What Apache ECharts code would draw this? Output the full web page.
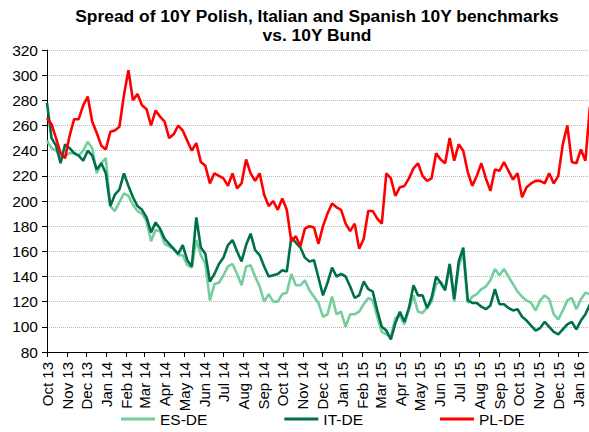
<!DOCTYPE html>
<html>
<head>
<meta charset="utf-8">
<script src="https://cdn.jsdelivr.net/npm/echarts@6/dist/echarts.min.js"></script>
<style>
html,body{margin:0;padding:0;background:#fff;}
#chart{width:589px;height:432px;}
</style>
</head>
<body>
<div id="chart"></div>
<script>
const seriesNames = ['ES-DE', 'IT-DE', 'PL-DE'];
const monthNames = ['Jan','Feb','Mar','Apr','May','Jun','Jul','Aug','Sep','Oct','Nov','Dec'];

const esDe = [248,242,240,236,236,238,238,236,240,247,242,222,230,234,196,192,199,206,204,197,
  192,190,184,168,177,176,166,164,162,157,157,149,147,169,157,150,121,134,135,141,
  148,150,142,133,148,149,140,132,120,126,120,120,126,127,142,133,133,137,129,124,
  119,108,110,124,110,112,100,110,110,112,118,123,121,108,96,94,92,107,109,102,
  114,125,112,111,115,120,134,136,130,150,120,148,158,119,124,126,130,132,137,146,
  141,146,140,134,128,124,121,119,113,121,125,122,110,106,113,121,123,114,122,127,126];

const itDe = [278,250,244,230,245,242,238,236,232,240,236,225,230,222,196,205,209,222,212,203,
  196,193,187,175,183,178,170,166,162,158,165,153,148,187,163,158,136,142,150,155,
  165,169,160,152,165,174,161,157,148,140,141,142,145,144,171,167,163,155,152,153,
  139,125,135,147,140,142,140,132,123,125,136,130,128,113,100,97,90,103,112,104,
  115,133,125,125,115,123,140,135,129,150,122,152,163,121,119,119,116,114,117,130,
  118,118,115,113,114,108,105,101,97,99,104,100,96,94,98,102,104,98,105,110,118];

const plDe = [266,261,250,238,234,252,265,265,276,283,263,254,244,241,255,256,259,284,304,280,
  285,276,273,260,272,267,263,250,253,260,256,248,240,246,231,228,214,222,220,218,
  212,222,210,214,233,222,216,222,205,196,200,193,202,193,168,172,164,178,180,179,
  166,180,190,198,195,193,182,176,182,162,170,192,192,186,182,222,218,204,211,212,
  218,226,230,220,216,218,238,233,230,250,232,245,240,223,212,220,230,218,208,225,
  224,231,224,217,222,203,211,214,216,216,214,222,214,220,245,260,231,230,241,232,275];

const yTicks = {min: 80, max: 320, step: 20};

const DAY = 86400000;
const START = Date.UTC(2013, 9, 1);
const END = Date.UTC(2016, 0, 16);
const weekDates = esDe.map((_, i) => START + i * 7 * DAY);

const pair = arr => arr.map((v, i) => [weekDates[i], v]);
const colors = ['#74cf9c', '#00704a', '#ff0000'];
const FONT = '"Liberation Sans", Arial, sans-serif';

const chart = echarts.init(document.getElementById('chart'), null, {renderer: 'svg'});
chart.setOption({
  animation: false,
  useUTC: true,
  backgroundColor: '#ffffff',
  title: {
    text: 'Spread of 10Y Polish, Italian and Spanish 10Y benchmarks\nvs. 10Y Bund',
    left: 317,
    top: 6,
    padding: 0,
    textAlign: 'center',
    textStyle: {fontFamily: FONT, fontSize: 17.4, fontWeight: 'bold', color: '#000', lineHeight: 19}
  },
  legend: {
    data: seriesNames,
    icon: 'rect',
    left: 116,
    top: 406,
    itemWidth: 34,
    itemHeight: 3,
    itemGap: 77,
    textStyle: {fontFamily: FONT, fontSize: 15.5, color: '#000'}
  },
  grid: {left: 47, right: 1, top: 50, bottom: 80},
  xAxis: {
    type: 'time',
    min: START,
    max: END,
    minInterval: 31 * DAY,
    maxInterval: 31 * DAY,
    splitNumber: 28,
    axisLine: {lineStyle: {color: '#000', width: 1}},
    axisTick: {show: true, length: 5, lineStyle: {color: '#000'}},
    splitLine: {show: false},
    axisLabel: {
      rotate: 90,
      margin: 10,
      fontFamily: FONT,
      fontSize: 15,
      color: '#000',
      showMaxLabel: false,
      formatter: function (value) {
        const d = new Date(value);
        if (d.getUTCDate() !== 1) return '';
        return monthNames[d.getUTCMonth()] + ' ' + String(d.getUTCFullYear()).slice(2);
      }
    }
  },
  yAxis: {
    type: 'value',
    min: yTicks.min,
    max: yTicks.max,
    interval: yTicks.step,
    axisLine: {show: true, lineStyle: {color: '#000', width: 1}},
    axisTick: {show: true, length: 5, lineStyle: {color: '#000'}},
    splitLine: {show: true, lineStyle: {color: '#b8b8b8', type: 'dotted', width: 1}},
    axisLabel: {margin: 9, fontFamily: FONT, fontSize: 15.5, color: '#000'}
  },
  series: [
    {name: seriesNames[0], type: 'line', data: pair(esDe), symbol: 'none', color: colors[0], lineStyle: {width: 2.6, color: colors[0]}},
    {name: seriesNames[1], type: 'line', data: pair(itDe), symbol: 'none', color: colors[1], lineStyle: {width: 2.6, color: colors[1]}},
    {name: seriesNames[2], type: 'line', data: pair(plDe), symbol: 'none', color: colors[2], lineStyle: {width: 2.6, color: colors[2]}}
  ]
});
</script>
</body>
</html>
